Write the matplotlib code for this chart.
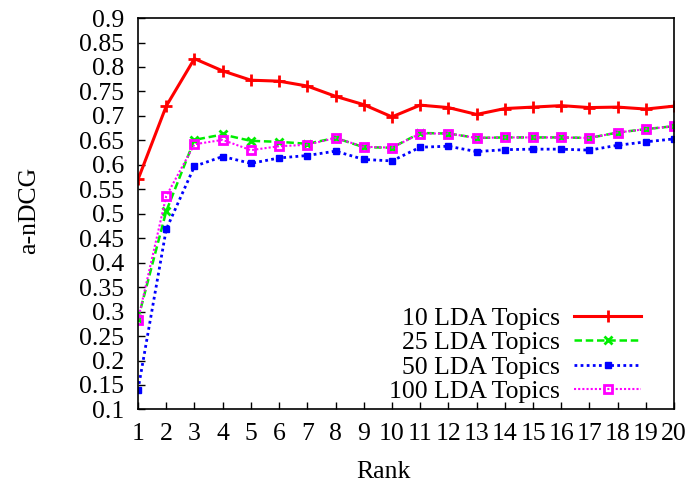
import numpy as np
from matplotlib import pyplot as plt

plt.rcParams['font.family'] = ['Liberation Serif', 'DejaVu Serif']

ranks = list(range(1, 21))
topics_10 = [0.570, 0.720, 0.817, 0.792, 0.773, 0.771, 0.761, 0.740, 0.723, 0.698,
             0.722, 0.717, 0.703, 0.715, 0.718, 0.721, 0.717, 0.718, 0.714, 0.720]
topics_25 = [0.285, 0.505, 0.651, 0.662, 0.649, 0.647, 0.643, 0.655, 0.636, 0.635,
             0.665, 0.664, 0.655, 0.656, 0.656, 0.656, 0.655, 0.666, 0.673, 0.679]
topics_50 = [0.140, 0.468, 0.597, 0.617, 0.603, 0.614, 0.619, 0.628, 0.611, 0.608,
             0.636, 0.638, 0.627, 0.631, 0.632, 0.632, 0.630, 0.640, 0.647, 0.653]
topics_100 = [0.283, 0.536, 0.642, 0.651, 0.630, 0.638, 0.641, 0.655, 0.637, 0.635,
              0.664, 0.664, 0.655, 0.656, 0.656, 0.656, 0.655, 0.666, 0.673, 0.679]
labels = ['10 LDA Topics', '25 LDA Topics', '50 LDA Topics', '100 LDA Topics']
y_ticks = [0.1, 0.15, 0.2, 0.25, 0.3, 0.35, 0.4, 0.45, 0.5, 0.55, 0.6, 0.65,
           0.7, 0.75, 0.8, 0.85, 0.9]
y_tick_labels = ['0.1', '0.15', '0.2', '0.25', '0.3', '0.35', '0.4', '0.45', '0.5',
                 '0.55', '0.6', '0.65', '0.7', '0.75', '0.8', '0.85', '0.9']
fs = 18.5

fig = plt.figure(figsize=(6.9, 4.88), dpi=100)
ax = fig.add_axes([0.2, 0.161, 0.777, 0.802])

ax.plot(ranks, topics_10, color='#ff0000', lw=2.2, ls='-', marker='+', ms=8, mew=2, label=labels[0])
ax.plot(ranks, topics_25, color='#00ee00', lw=1.8, ls=(0, (3, 1.5)), marker='x', ms=6, mew=2, label=labels[1])
ax.plot(ranks, topics_50, color='#0000ff', lw=2, ls=(0, (1, 1.2)), marker='s', ms=5, label=labels[2])
ax.plot(ranks, topics_100, color='#ff00ff', lw=1.5, ls=(0, (1, 1)), marker='s', ms=6, mfc='none', mew=2,
        label=labels[3])

ax.set_xlim(1, 20)
ax.set_ylim(0.1, 0.9)
ax.set_xticks(ranks)
ax.set_yticks(y_ticks)
ax.set_yticklabels(y_tick_labels)
ax.tick_params(direction='in', length=5, width=1, labelsize=fs)
ax.tick_params(axis='x', pad=10)
ax.tick_params(axis='y', pad=10)
for sp in ax.spines.values():
    sp.set_linewidth(1.2)

ax.set_xlabel('Rank', fontsize=fs)
ax.xaxis.set_label_coords(0.457, -0.16)
ax.xaxis.label.set_verticalalignment('center')
ax.set_ylabel('a-nDCG', fontsize=fs)
ax.yaxis.set_label_coords(-0.203, 0.508)
ax.yaxis.label.set_verticalalignment('center')

ax.legend(loc='lower right', bbox_to_anchor=(0.972, -0.03), frameon=False, markerfirst=False,
          fontsize=fs, handlelength=2.6, handletextpad=0.55, labelspacing=0.06, borderpad=0.2)

plt.savefig('out.png', dpi=100)
